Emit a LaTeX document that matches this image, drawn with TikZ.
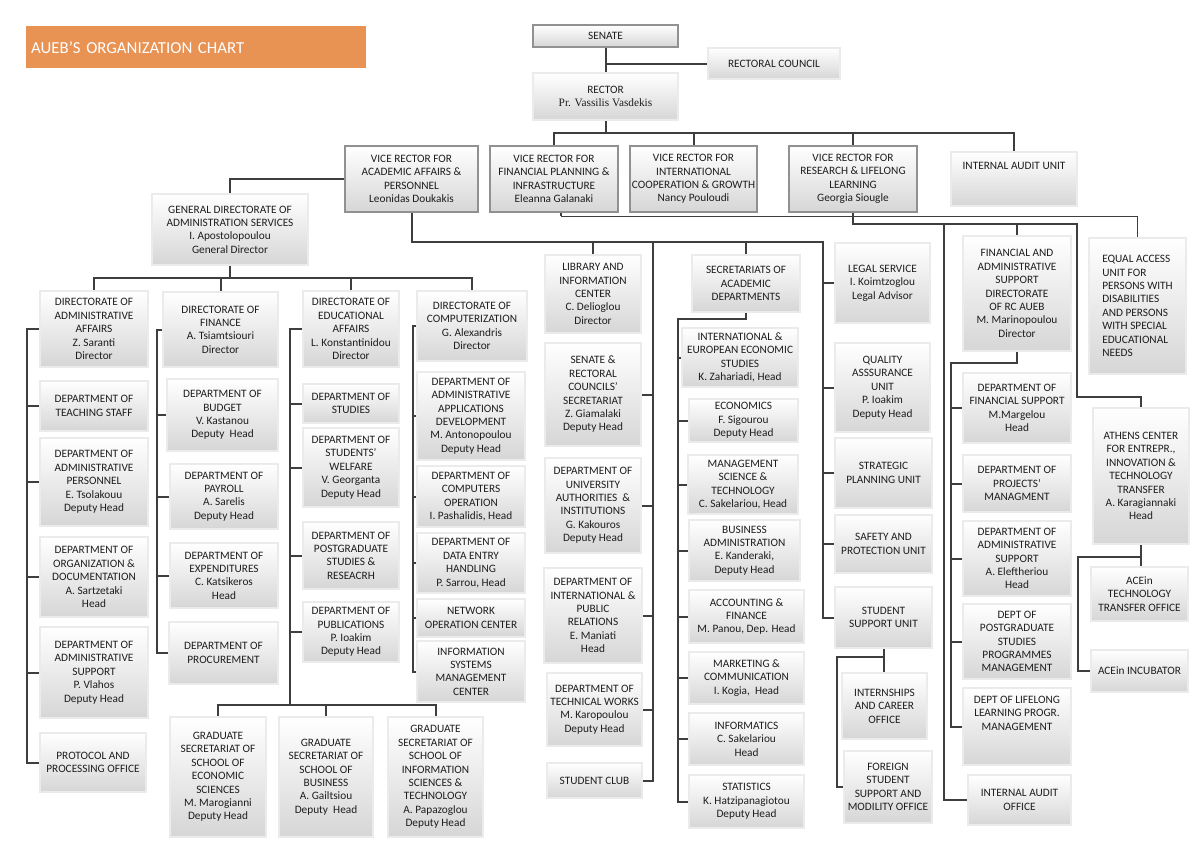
\documentclass[tikz,border=0pt]{standalone}
\usepackage{fontspec}
\setmainfont{Carlito}
\newfontfamily\rserif{Liberation Serif}
\usetikzlibrary{shadows,backgrounds}
\definecolor{titleorange}{RGB}{232,146,84}
\definecolor{linec}{RGB}{62,62,62}
\definecolor{boxline}{RGB}{145,145,145}
\definecolor{boxbot}{RGB}{214,214,214}
\definecolor{txt}{RGB}{30,30,30}
\tikzset{
  basebox/.style={rectangle, draw=boxline, top color=white, bottom color=boxbot,
    align=center, inner sep=1pt, outer sep=0pt, text=txt,
    font=\fontsize{11.3}{13.4}\selectfont,
    drop shadow={shadow xshift=1.4pt, shadow yshift=-1.4pt, opacity=0.22, fill=black}},
  box/.style={basebox, double=white!92!black, double distance=1.4pt, line width=0.75pt},
  sbox/.style={basebox, line width=1.1pt},
  conn/.style={draw=linec, line width=2pt},
  thinconn/.style={draw=linec, line width=1pt},
}
\newcommand{\bx}[7][box]{\node[#1,minimum width={#5-#3},minimum height={#6-#4}] (#2) at ({(#3+#5)/2},{(#4+#6)/2}) {#7};}
\newcommand{\spinew}[4]{%
  \draw[conn] (#2.west) -- (#2.west -| #1) -- (#3.west -| #1) -- (#3.west);
  \foreach \n in {#4} {\draw[conn] (\n.west) -- (\n.west -| #1);}}
\begin{document}
\begin{tikzpicture}[x=1pt,y=-1pt]
\useasboundingbox (0,0) rectangle (1200,849);

\node[fill=titleorange, minimum width=340, minimum height=42, text width=330, align=left,
  inner sep=0pt, text=white, font=\fontsize{16.8}{18}\selectfont, anchor=north west] (title) at (26,26) {AUEB’S ORGANIZATION CHART};

% top
\bx[sbox]{senate}{533}{25}{678}{47}{SENATE}
\bx{rc}{708}{48}{840}{79}{RECTORAL COUNCIL}
\bx{rector}{533}{73}{678}{120}{RECTOR\\{\rserif Pr. Vassilis Vasdekis}}
\bx[sbox]{vra}{345}{146}{478}{212}{VICE RECTOR FOR\\ACADEMIC AFFAIRS \&\\PERSONNEL\\Leonidas Doukakis}
\bx[sbox]{vrf}{490}{146}{618}{212}{VICE RECTOR FOR\\FINANCIAL PLANNING \&\\INFRASTRUCTURE\\Eleanna Galanaki}
\bx[sbox]{vri}{630}{146}{757}{212}{VICE RECTOR FOR\\INTERNATIONAL\\COOPERATION \& GROWTH\\Nancy Pouloudi}
\bx[sbox]{vrr}{789}{146}{917}{212}{VICE RECTOR FOR\\RESEARCH \& LIFELONG\\LEARNING\\Georgia Siougle}
\bx{iau}{951}{152}{1077}{206}{INTERNAL AUDIT UNIT\\\mbox{}\\\mbox{}}
\bx{gdas}{152}{194}{308}{265}{GENERAL DIRECTORATE OF\\ADMINISTRATION SERVICES\\I. Apostolopoulou\\General Director}

% column 1
\bx{daa}{40}{291}{148}{367}{DIRECTORATE OF\\ADMINISTRATIVE\\AFFAIRS\\Z. Saranti\\Director}
\bx{dts}{40}{381}{148}{431}{DEPARTMENT OF\\TEACHING STAFF}
\bx{dap}{40}{438}{148}{526}{DEPARTMENT OF\\ADMINISTRATIVE\\PERSONNEL\\E. Tsolakouu\\Deputy Head}
\bx{dod}{40}{537}{148}{617}{DEPARTMENT OF\\ORGANIZATION \&\\DOCUMENTATION\\A. Sartzetaki\\Head}
\bx{das}{40}{627}{148}{718}{DEPARTMENT OF\\ADMINISTRATIVE\\SUPPORT\\P. Vlahos\\Deputy Head}
\bx{ppo}{40}{733}{146}{792}{PROTOCOL AND\\PROCESSING OFFICE}

% column 2
\bx{dfin}{163}{292}{278}{367}{DIRECTORATE OF\\FINANCE\\A. Tsiamtsiouri\\Director}
\bx{dbud}{167}{379}{278}{451}{DEPARTMENT OF\\BUDGET\\V. Kastanou\\Deputy\ \ Head}
\bx{dpay}{170}{464}{278}{529}{DEPARTMENT OF\\PAYROLL\\A. Sarelis\\Deputy Head}
\bx{dexp}{170}{543}{278}{608}{DEPARTMENT OF\\EXPENDITURES\\C. Katsikeros\\Head}
\bx{dproc}{169}{622}{278}{684}{DEPARTMENT OF\\PROCUREMENT}

% column 3
\bx{dedu}{303}{291}{399}{367}{DIRECTORATE OF\\EDUCATIONAL\\AFFAIRS\\L. Konstantinidou\\Director}
\bx{dstu}{303}{384}{399}{423}{DEPARTMENT OF\\STUDIES}
\bx{dwel}{303}{428}{399}{507}{DEPARTMENT OF\\STUDENTS'\\WELFARE\\V. Georganta\\Deputy Head}
\bx{dpg}{303}{522}{399}{589}{DEPARTMENT OF\\POSTGRADUATE\\STUDIES \&\\RESEACRH}
\bx{dpub}{303}{602}{399}{662}{DEPARTMENT OF\\PUBLICATIONS\\P. Ioakim\\Deputy Head}

% column 4
\bx{dcomp}{417}{291}{527}{361}{DIRECTORATE OF\\COMPUTERIZATION\\G. Alexandris\\Director}
\bx{dadev}{417}{372}{525}{460}{DEPARTMENT OF\\ADMINISTRATIVE\\APPLICATIONS\\DEVELOPMENT\\M. Antonopoulou\\Deputy Head}
\bx{dcop}{417}{466}{525}{527}{DEPARTMENT OF\\COMPUTERS\\OPERATION\\I. Pashalidis, Head}
\bx{dde}{417}{533}{525}{593}{DEPARTMENT OF\\DATA ENTRY\\HANDLING\\P. Sarrou, Head}
\bx{dnet}{417}{599}{525}{637}{NETWORK\\OPERATION CENTER}
\bx{dis}{417}{641}{525}{702}{INFORMATION\\SYSTEMS\\MANAGEMENT\\CENTER}

% graduate secretariats
\bx{gecon}{170}{717}{266}{837}{GRADUATE\\SECRETARIAT OF\\SCHOOL OF\\ECONOMIC\\SCIENCES\\M. Marogianni\\Deputy Head}
\bx{gbus}{279}{717}{373}{837}{GRADUATE\\SECRETARIAT OF\\SCHOOL OF\\BUSINESS\\A. Gailtsiou\\Deputy\ \ Head}
\bx{ginf}{388}{717}{483}{837}{GRADUATE\\SECRETARIAT OF\\SCHOOL OF\\INFORMATION\\SCIENCES \&\\TECHNOLOGY\\A. Papazoglou\\Deputy Head}

% library column
\bx{lib}{545}{255}{641}{333}{LIBRARY AND\\INFORMATION\\CENTER\\C. Delioglou\\Director}
\bx{srcs}{545}{343}{641}{446}{SENATE \&\\RECTORAL\\COUNCILS'\\SECRETARIAT\\Z. Giamalaki\\Deputy Head}
\bx{duai}{545}{458}{641}{553}{DEPARTMENT OF\\UNIVERSITY\\AUTHORITIES\ \ \&\\INSTITUTIONS\\G. Kakouros\\Deputy Head}
\bx{dipr}{544}{568}{642}{663}{DEPARTMENT OF\\INTERNATIONAL \&\\PUBLIC\\RELATIONS\\E. Maniati\\Head}
\bx{dtw}{547}{673}{642}{746}{DEPARTMENT OF\\TECHNICAL WORKS\\M. Karopoulou\\Deputy Head}
\bx{sclub}{547}{763}{642}{798}{STUDENT CLUB}

% secretariats column
\bx{sad}{692}{255}{800}{312}{SECRETARIATS OF\\ACADEMIC\\DEPARTMENTS}
\bx{iees}{682}{328}{798}{387}{INTERNATIONAL \&\\EUROPEAN ECONOMIC\\STUDIES\\K. Zahariadi, Head}
\bx{econ}{689}{399}{798}{442}{ECONOMICS\\F. Sigourou\\Deputy Head}
\bx{mst}{688}{455}{798}{514}{MANAGEMENT\\SCIENCE \&\\TECHNOLOGY\\C. Sakelariou, Head}
\bx{ba}{689}{520}{800}{581}{BUSINESS\\ADMINISTRATION\\E. Kanderaki,\\Deputy Head}
\bx{af}{689}{590}{804}{643}{ACCOUNTING \&\\FINANCE\\M. Panou, Dep. Head}
\bx{mc}{689}{652}{804}{704}{MARKETING \&\\COMMUNICATION\\I. Kogia,\ \ Head}
\bx{inf}{689}{713}{804}{765}{INFORMATICS\\C. Sakelariou\\Head}
\bx{stat}{689}{775}{804}{828}{STATISTICS\\K. Hatzipanagiotou\\Deputy Head}

% units column
\bx{legal}{835}{243}{930}{323}{LEGAL SERVICE\\I. Koimtzoglou\\Legal Advisor}
\bx{qa}{835}{343}{930}{432}{QUALITY\\ASSSURANCE\\UNIT\\P. Ioakim\\Deputy Head}
\bx{spu}{835}{438}{932}{508}{STRATEGIC\\PLANNING UNIT}
\bx{sap}{835}{515}{932}{573}{SAFETY AND\\PROTECTION UNIT}
\bx{ssu}{835}{587}{932}{648}{STUDENT\\SUPPORT UNIT}
\bx{ico}{842}{673}{927}{739}{INTERNSHIPS\\AND CAREER\\OFFICE}
\bx{fss}{844}{751}{932}{823}{FOREIGN\\STUDENT\\SUPPORT AND\\MODILITY OFFICE}

% FADS column
\bx{fads}{963}{236}{1071}{351}{FINANCIAL AND\\ADMINISTRATIVE\\SUPPORT\\DIRECTORATE\\OF RC AUEB\\M. Marinopoulou\\Director}
\bx{dfs}{963}{373}{1071}{443}{DEPARTMENT OF\\FINANCIAL SUPPORT\\M.Margelou\\Head}
\bx{dpm}{963}{455}{1071}{512}{DEPARTMENT OF\\PROJECTS'\\MANAGMENT}
\bx{dasr}{963}{521}{1071}{596}{DEPARTMENT OF\\ADMINISTRATIVE\\SUPPORT\\A. Eleftheriou\\Head}
\bx{dpsp}{963}{604}{1071}{679}{DEPT OF\\POSTGRADUATE\\STUDIES\\PROGRAMMES\\MANAGEMENT}
\bx{dllp}{963}{688}{1071}{765}{DEPT OF LIFELONG\\LEARNING PROGR.\\MANAGEMENT\\\mbox{}\\\mbox{}}
\bx{iao}{968}{775}{1071}{825}{INTERNAL AUDIT\\OFFICE}

% right
\node[box, align=left, minimum width=97, minimum height=136] (eau) at (1137.5,306) {EQUAL ACCESS\\UNIT FOR\\PERSONS WITH\\DISABILITIES\\AND PERSONS\\WITH SPECIAL\\EDUCATIONAL\\NEEDS};
\bx{acec}{1093}{408}{1189}{544}{ATHENS CENTER\\FOR ENTREPR.,\\INNOVATION \&\\TECHNOLOGY\\TRANSFER\\A. Karagiannaki\\Head}
\bx{tto}{1091}{567}{1188}{621}{ACEin\\TECHNOLOGY\\TRANSFER OFFICE}
\bx{inc}{1091}{650}{1188}{692}{ACEin INCUBATOR}

% junction coordinates
\coordinate (rbus) at (605,133);
\coordinate (gdbus) at (230,278);
\coordinate (x1) at (27,0);
\coordinate (x2) at (157,0);
\coordinate (gradbus) at (290,705);
\coordinate (x4) at (413,0);
\coordinate (abus) at (412,242);
\coordinate (x5) at (653,0);
\coordinate (x6) at (823,0);
\coordinate (x7) at (678,319);
\coordinate (rbus2) at (853,224);
\coordinate (r3) at (1077,397);
\coordinate (x9) at (944,224);
\coordinate (x8) at (951,363);
\coordinate (t1) at (561,216);
\coordinate (a1) at (1078,557);
\coordinate (s1) at (837,657);

\begin{scope}[on background layer]
\fill[white] (0,0) rectangle (1200,849);
% senate / rector
\draw[conn] (senate.south) -- (rector.north);
\draw[conn] (rc.west) -- (rc.west -| senate.south);
\draw[conn] (rector.south) -- (rector.south |- rbus);
\draw[conn] (vrf.north) |- (rbus) -| (iau.north);
\draw[conn] (vri.north) -- (vri.north |- rbus);
\draw[conn] (vrr.north) -- (vrr.north |- rbus);
% academic affairs
\draw[conn] (vra.west) -| (gdas.north);
\draw[conn] (gdas.south) -- (gdbus);
\draw[conn] (daa.north) |- (gdbus) -| (dcomp.north);
\draw[conn] (dfin.north) -- (dfin.north |- gdbus);
\draw[conn] (dedu.north) -- (dedu.north |- gdbus);
\spinew{x1}{daa}{ppo}{dts,dap,dod,das}
\spinew{x2}{dfin}{dproc}{dbud,dpay,dexp}
\spinew{x4}{dcomp}{dis}{dadev,dcop,dde,dnet}
\draw[conn] (dedu.west) -| (gradbus);
\foreach \n in {dstu,dwel,dpg,dpub} {\draw[conn] (\n.west) -- (\n.west -| gradbus);}
\draw[conn] (gecon.north) |- (gradbus) -| (ginf.north);
\draw[conn] (gbus.north) -- (gbus.north |- gradbus);
% VR academic lower bus
\draw[conn] (vra.south) |- (x6 |- abus) -- (x6 |- ssu.west) -- (ssu.west);
\foreach \n in {legal,qa,spu,sap} {\draw[conn] (\n.west) -- (\n.west -| x6);}
\draw[conn] (lib.north) -- (lib.north |- abus);
\draw[conn] (x5 |- abus) -- (x5 |- sclub.east) -- (sclub.east);
\foreach \n in {srcs,duai,dipr,dtw} {\draw[conn] (\n.east) -- (\n.east -| x5);}
\draw[conn] (sad.north) -- (sad.north |- abus);
\draw[conn] (sad.south) |- (x7) -- (x7 |- stat.west) -- (stat.west);
\foreach \n in {iees,econ,mst,ba,af,mc,inf} {\draw[conn] (\n.west) -- (\n.west -| x7);}
% student support
\draw[conn] (ssu.south) -- (ssu.south |- ico.north);
\draw[conn] (ssu.south |- s1) -- (s1) |- (fss.west);
% VR research
\draw[conn] (vrr.south) |- (r3 |- rbus2) -- (r3) -| (acec.north);
\draw[conn] (fads.north) -- (fads.north |- rbus2);
\draw[conn] (x9) |- (iao.west);
\draw[conn] (fads.south) |- (x8) -- (x8 |- dllp.west) -- (dllp.west);
\foreach \n in {dfs,dpm,dasr,dpsp} {\draw[conn] (\n.west) -- (\n.west -| x8);}
\draw[conn] (acec.south) -- (acec.south |- tto.north);
\draw[conn] (acec.south |- a1) -- (a1) |- (inc.west);
% thin line from VR financial
\draw[conn] (t1 |- vrf.south) -- ++(0,4);
\draw[thinconn] (t1 |- vrf.south) -- (t1) -| (eau.north);
\end{scope}
\end{tikzpicture}
\end{document}
